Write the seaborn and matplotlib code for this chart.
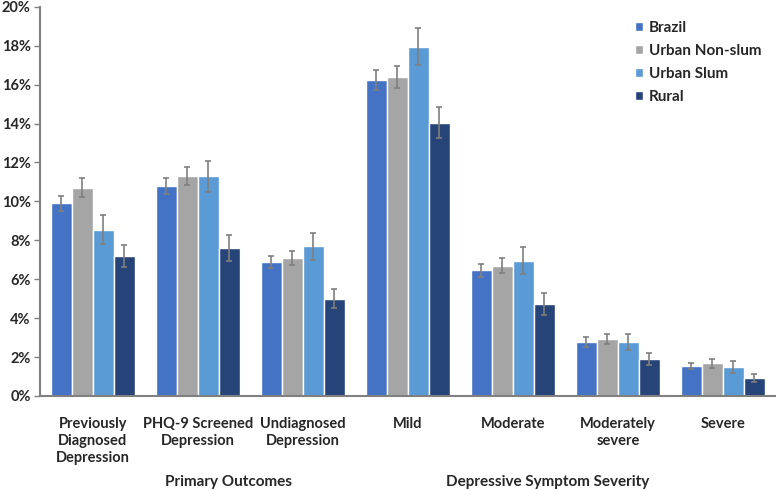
import pandas as pd
import numpy as np
import matplotlib
matplotlib.use("Agg")
import matplotlib.pyplot as plt
import seaborn as sns
from matplotlib.ticker import PercentFormatter

# Data (percent)
categories = ["Previously\nDiagnosed\nDepression", "PHQ-9 Screened\nDepression",
              "Undiagnosed\nDepression", "Mild", "Moderate", "Moderately\nsevere", "Severe"]
groups = ["Brazil", "Urban Non-slum", "Urban Slum", "Rural"]

brazil = [9.9, 10.8, 6.9, 16.25, 6.45, 2.76, 1.53]
non_slum = [10.7, 11.3, 7.1, 16.4, 6.7, 2.92, 1.67]
slum = [8.55, 11.3, 7.7, 17.95, 6.95, 2.76, 1.48]
rural = [7.2, 7.6, 5.0, 14.05, 4.73, 1.9, 0.93]

brazil_err = [0.4, 0.4, 0.3, 0.5, 0.35, 0.25, 0.17]
non_slum_err = [0.5, 0.45, 0.35, 0.55, 0.4, 0.25, 0.22]
slum_err = [0.75, 0.8, 0.7, 0.95, 0.7, 0.4, 0.32]
rural_err = [0.55, 0.65, 0.5, 0.8, 0.55, 0.3, 0.2]

colors = ["#4472C4", "#A5A5A5", "#5B9BD5", "#264478"]

values = [brazil, non_slum, slum, rural]
errors = [brazil_err, non_slum_err, slum_err, rural_err]

df = pd.DataFrame({
    "category": np.tile(categories, len(groups)),
    "group": np.repeat(groups, len(categories)),
    "value": np.concatenate(values),
})

sns.set_style("white")
plt.rcParams["font.family"] = ["Lato", "DejaVu Sans"]
plt.rcParams["font.weight"] = "bold"

fig = plt.figure(figsize=(7.77, 4.90), dpi=100)
ax = fig.add_axes([0.052, 0.192, 0.946, 0.794])

sns.barplot(data=df, x="category", y="value", hue="group", order=categories,
            hue_order=groups, palette=colors, errorbar=None, width=0.8,
            saturation=1, ax=ax)

# error bars on each bar
for cont, err in zip(ax.containers, errors):
    xs = [p.get_x() + p.get_width() / 2 for p in cont.patches]
    hs = [p.get_height() for p in cont.patches]
    ax.errorbar(xs, hs, yerr=err, fmt="none", ecolor="#7f7f7f",
                elinewidth=1.2, capsize=2.5, capthick=1.2)

ax.set_ylim(0, 20)
ax.set_xlim(-0.5, 6.5)
ax.set_yticks(range(0, 21, 2))
ax.yaxis.set_major_formatter(PercentFormatter(decimals=0))
ax.set_xlabel("")
ax.set_ylabel("")
ax.tick_params(axis="y", left=True, length=4, width=1, color="#808080",
               labelsize=10.5, pad=3)
ax.tick_params(axis="x", bottom=False, labelsize=10.5, pad=12)
for lab in ax.get_yticklabels():
    lab.set_fontweight("bold")
    lab.set_color("#262626")
for lab in ax.get_xticklabels():
    lab.set_fontweight("bold")
    lab.set_color("#262626")
    lab.set_linespacing(1.25)

sns.despine(ax=ax)
ax.spines["left"].set_color("#808080")
ax.spines["bottom"].set_color("#808080")
ax.spines["left"].set_linewidth(1.5)
ax.spines["bottom"].set_linewidth(1.5)

leg = ax.legend(loc="upper left", bbox_to_anchor=(0.79, 1.0), frameon=False,
                fontsize=11, handlelength=0.55, handleheight=0.55,
                handletextpad=0.35, labelspacing=0.6)
for t in leg.get_texts():
    t.set_fontweight("bold")
    t.set_color("#262626")

fig.text(228 / 777, 1 - 482 / 490, "Primary Outcomes", ha="center", va="center",
         fontsize=11, fontweight="bold", color="#262626")
fig.text(548 / 777, 1 - 482 / 490, "Depressive Symptom Severity", ha="center",
         va="center", fontsize=11, fontweight="bold", color="#262626")

fig.savefig("out.png", dpi=100)
